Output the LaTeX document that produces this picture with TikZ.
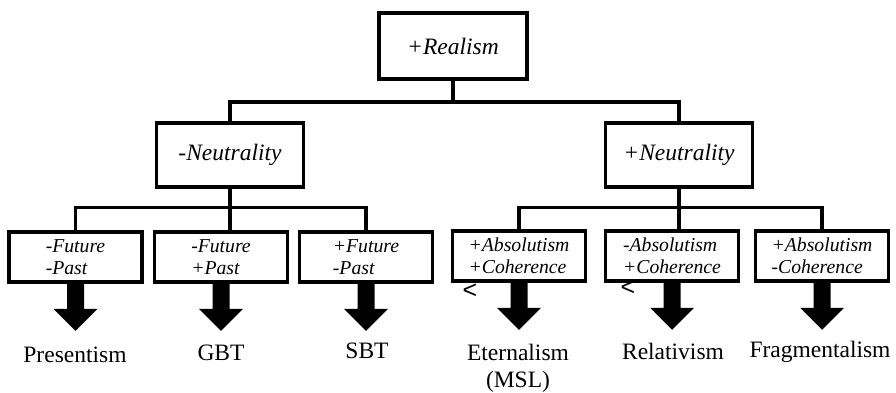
\documentclass[tikz,border=0pt]{standalone}
\usepackage{fontspec}
\setmainfont{Liberation Serif}
\setsansfont{Liberation Sans}
\usepackage{tikz}
\usetikzlibrary{calc}
\def\blockarrow(#1){\fill ($(#1.south)+(-8.5,-1)$) -- ++(0,26) -- ++(-13.5,0) -- ($(#1.south)+(0,47)$) -- ++(22,-22) -- ++(-13.5,0) -- ++(0,-26) -- cycle;}
\tikzset{
	rootbox/.style={draw, line width=3.5pt, minimum width=148pt, minimum height=66pt, font=\fontsize{23.5}{27}\selectfont\itshape},
	sidebox/.style={rootbox, minimum width=147pt, minimum height=64pt},
	leafbox/.style={draw, line width=3.5pt, minimum width=133pt, minimum height=50pt, inner sep=0pt, align=left, font=\fontsize{19.7}{22.5}\selectfont\itshape},
	link/.style={line width=3.5pt},
	theory/.style={anchor=base, align=center, font=\fontsize{23.5}{27}\selectfont},
	stray/.style={font=\sffamily\fontsize{25}{25}\selectfont, inner sep=0pt}
}

\begin{document}
\begin{tikzpicture}[x=1pt, y=-1pt]
		%%%%% START %%%%%
		\useasboundingbox (0,0) rectangle (896,392);
		
		\node[rootbox] (real) at (453,46) {+Realism};
		\node[sidebox] (neg) at (230,155) {-Neutrality};
		\node[sidebox] (pos) at (679,155) {+Neutrality};
		
		\node[leafbox] (ff) at (75.5,257) {-Future\\-Past};
		\node[leafbox] (fp) at (221,257) {-Future\\+Past};
		\node[leafbox] (pf) at (366,257) {+Future\\-Past};
		\node[leafbox] (aac) at (519,256) {+Absolutism\\+Coherence};
		\node[leafbox] (nac) at (672,256) {-Absolutism\\+Coherence};
		\node[leafbox] (anc) at (822,256) {+Absolutism\\-Coherence};
		
		\draw[link] (real.south) -- ++(0,21) -| (neg.north);
		\draw[link] (real.south) -- ++(0,21) -| (pos.north);
		
		\draw[link] (neg.south) -- (neg.south |- fp.north);
		\draw[link] (ff.north) -- ++(0,-23) -| (pf.north);
		\draw[link] (pos.south) -- (pos.south |- nac.north);
		\draw[link] (aac.north) -- ++(0,-22) -| (anc.north);
		
		\blockarrow(ff)
		\blockarrow(fp)
		\blockarrow(pf)
		\blockarrow(aac)
		\blockarrow(nac)
		\blockarrow(anc)
		
		\node[theory] (pres) at (75,362) {Presentism};
		\node[theory] (gbt) at (221,360) {GBT};
		\node[theory] (sbt) at (367,358) {SBT};
		\node[theory] (eter) at (518,387) {Eternalism\\(MSL)};
		\node[theory] (rel) at (673,359) {Relativism};
		\node[theory] (frag) at (820,357) {Fragmentalism};
		
		\node[stray] (lt1) at (470,291) {<};
		\node[stray] (lt2) at (628,288) {<};
		
		%%%%% END %%%%%
	\end{tikzpicture}
\end{document}
